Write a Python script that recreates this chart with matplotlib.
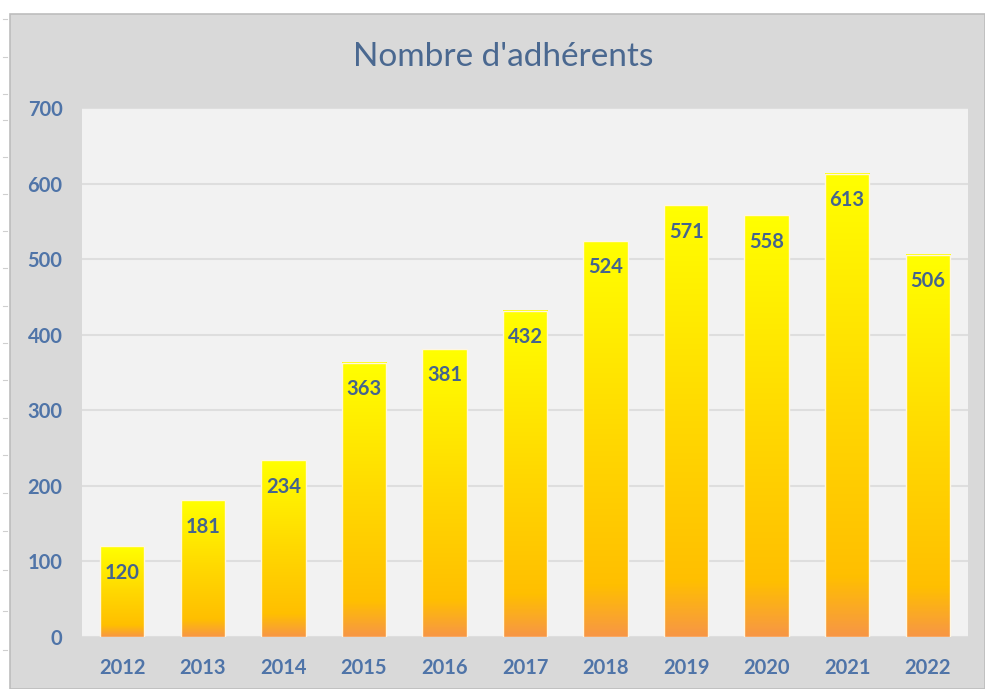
import numpy as np
import matplotlib.pyplot as plt
from matplotlib.colors import LinearSegmentedColormap
from matplotlib.patches import Rectangle

plt.rcParams["font.family"] = ["Lato", "DejaVu Sans"]

# Data
years = ["2012", "2013", "2014", "2015", "2016", "2017", "2018", "2019", "2020", "2021", "2022"]
members = [120, 181, 234, 363, 381, 432, 524, 571, 558, 613, 506]
y_ticks = [0, 100, 200, 300, 400, 500, 600, 700]

tick_color = "#4f74a8"
label_color = "#44648f"
title_color = "#4a6890"

# bottom orange -> amber -> top yellow
grad = LinearSegmentedColormap.from_list(
    "bar", [(0.0, "#f79646"), (0.13, "#ffbf00"), (0.5, "#ffd800"), (1.0, "#ffff00")])

fig = plt.figure(figsize=(9.85, 6.89), dpi=100)
fig.patch.set_facecolor("white")

# gray chart frame (screenshot has a white strip at top and left)
fig.patches.append(Rectangle((10 / 985, 0), 1 - 10 / 985, 1 - 14 / 689,
                             transform=fig.transFigure, facecolor="#d9d9d9",
                             edgecolor="#bdbdbd", linewidth=1.2, zorder=-5))
for ty in [19, 57, 94, 120, 157, 194, 231, 268, 306, 343, 380, 418, 455, 493, 531, 570, 611, 650]:
    fig.add_artist(plt.Line2D([3 / 985, 7 / 985], [1 - ty / 689] * 2,
                              transform=fig.transFigure, color="#cfcfcf", lw=0.8))

ax = fig.add_axes([82 / 985, 52 / 689, 886 / 985, 529 / 689])
ax.set_facecolor("#f2f2f2")

x = np.arange(len(years))
width = 0.55
bars = ax.bar(x, members, width=width, color="none", edgecolor="#fff6e0", linewidth=1.0, zorder=3)

g = np.linspace(0, 1, 256).reshape(-1, 1)
for b in bars:
    x0, w, h = b.get_x(), b.get_width(), b.get_height()
    ax.imshow(g, cmap=grad, origin="lower", aspect="auto",
              extent=(x0, x0 + w, 0, h), zorder=2)
    ax.annotate(f"{int(h)}", (x0 + w / 2, h), xytext=(0, -19), textcoords="offset points",
                ha="center", va="center", fontsize=14.5, fontweight="bold",
                color=label_color, zorder=4)

ax.set_xlim(-0.5, len(years) - 0.5)
ax.set_ylim(0, 700)
ax.set_yticks(y_ticks)
ax.set_xticks(x)
ax.set_xticklabels(years)
ax.grid(axis="y", color="#dedede", linewidth=1.5, zorder=1)
ax.set_axisbelow(True)
for s in ax.spines.values():
    s.set_visible(False)
ax.tick_params(length=0, labelsize=14.5, labelcolor=tick_color, pad=14)
ax.tick_params(axis="x", pad=15)
for t in ax.get_xticklabels() + ax.get_yticklabels():
    t.set_fontweight("bold")

fig.text(503 / 985, 1 - 57 / 689, "Nombre d'adhérents", ha="center", va="center",
         fontsize=24, color=title_color)

fig.savefig("out.png", dpi=100)
